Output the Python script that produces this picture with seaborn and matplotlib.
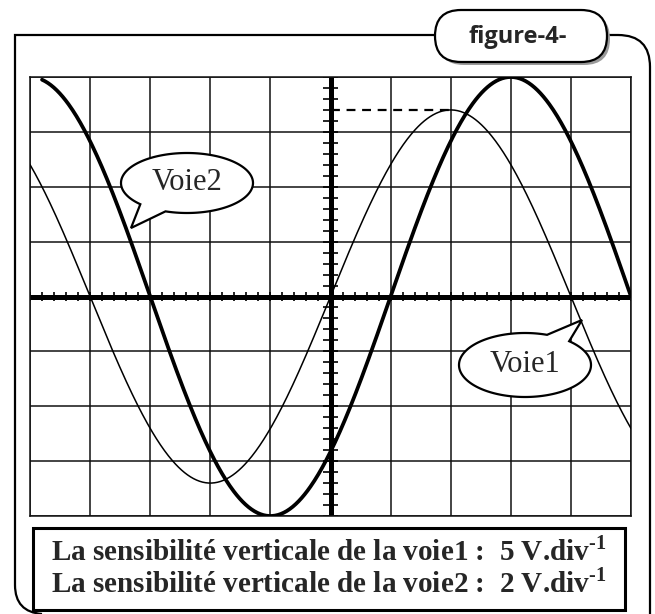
import numpy as np
import pandas as pd
import matplotlib
matplotlib.use("Agg")
import matplotlib.pyplot as plt
import seaborn as sns
from matplotlib.patches import FancyBboxPatch, Rectangle, Polygon
from matplotlib.path import Path
from matplotlib.patches import PathPatch

# ---- data (units: screen divisions) ----
n_div_x = 10
n_div_y = 8
subdiv = 5
voie1_amplitude = 3.4      # thin curve, peak in div
voie2_amplitude = 4.0      # thick curve, peak in div
period_div = 8.0           # both signals
voie1_zero_up = 0.0        # upward zero crossing (div)
voie2_zero_up = 1.0        # upward zero crossing (div)
voie2_start = -4.8
caption_lines = ["La sensibilité verticale de la voie1 :  5 V.div$^{\\mathbf{\u20101}}$",
                 "La sensibilité verticale de la voie2 :  2 V.div$^{\\mathbf{\u20101}}$"]
fig_label = "figure-4-"
label1 = "Voie1"
label2 = "Voie2"

sns.set_style("white")
plt.rcParams['font.family'] = ['Liberation Serif', 'DejaVu Serif']
plt.rcParams['mathtext.fontset'] = 'custom'
plt.rcParams['mathtext.rm'] = 'Liberation Serif'
plt.rcParams['mathtext.bf'] = 'Liberation Serif:bold'

W, H = 655, 614
fig = plt.figure(figsize=(W / 100, H / 100), dpi=100)

# grid region in pixels
gx0, gx1, gy0, gy1 = 30, 631, 77, 516
ax = fig.add_axes([gx0 / W, 1 - gy1 / H, (gx1 - gx0) / W, (gy1 - gy0) / H])
xmin, xmax = -n_div_x / 2, n_div_x / 2
ymin, ymax = -n_div_y / 2, n_div_y / 2

t1 = np.linspace(xmin, xmax, 600)
t2 = np.linspace(voie2_start, xmax, 600)
df1 = pd.DataFrame({"t": t1, "u": voie1_amplitude * np.sin(2 * np.pi * (t1 - voie1_zero_up) / period_div)})
df2 = pd.DataFrame({"t": t2, "u": voie2_amplitude * np.sin(2 * np.pi * (t2 - voie2_zero_up) / period_div)})

for k in range(int(xmin), int(xmax) + 1):
    ax.axvline(k, color="#111111", lw=1.1, zorder=1)
for k in range(int(ymin), int(ymax) + 1):
    ax.axhline(k, color="#111111", lw=1.1, zorder=1)
ax.axhline(0, color="black", lw=3.6, zorder=2)
ax.axvline(0, color="black", lw=3.6, zorder=2)
xt = np.arange(xmin, xmax + 1e-9, 1 / subdiv)
yt = np.arange(ymin, ymax + 1e-9, 1 / subdiv)
ax.vlines(xt, -0.09, 0.09, color="black", lw=1.2, zorder=2)
ax.hlines(yt, -0.12, 0.12, color="black", lw=1.2, zorder=2)

sns.lineplot(data=df1, x="t", y="u", ax=ax, color="black", lw=1.1, zorder=3, sort=False)
sns.lineplot(data=df2, x="t", y="u", ax=ax, color="black", lw=2.7, zorder=3, sort=False)
ax.plot([voie1_zero_up, voie1_zero_up + period_div / 4], [voie1_amplitude] * 2,
        color="black", lw=1.6, ls=(0, (4, 3)), zorder=3)

ax.set_xlim(xmin, xmax)
ax.set_ylim(ymin, ymax)
ax.set_xticks([]); ax.set_yticks([])
ax.set_xlabel(""); ax.set_ylabel("")
for s in ax.spines.values():
    s.set_color("#111111"); s.set_linewidth(1.1)

# ---- overlay in pixel coordinates ----
ov = fig.add_axes([0, 0, 1, 1], facecolor="none")
ov.set_xlim(0, W); ov.set_ylim(H, 0); ov.axis("off")

# outer frame
verts = [(435, 35), (15, 35), (15, 585)]
codes = [Path.MOVETO, Path.LINETO, Path.LINETO]
verts += [(15, 612), (42, 614)]
codes += [Path.CURVE3, Path.CURVE3]
ov.add_patch(PathPatch(Path(verts, codes), fill=False, lw=1.6, color="black"))
verts = [(607, 35), (618, 35), (650, 35), (650, 67), (650, 620)]
codes = [Path.MOVETO, Path.LINETO, Path.CURVE3, Path.CURVE3, Path.LINETO]
ov.add_patch(PathPatch(Path(verts, codes), fill=False, lw=1.6, color="black"))

# tab
ov.add_patch(FancyBboxPatch((438, 13), 172, 52, boxstyle="round,pad=0,rounding_size=26",
                            fc="#9a9a9a", ec="none", zorder=4))
ov.add_patch(FancyBboxPatch((435, 10), 172, 52, boxstyle="round,pad=0,rounding_size=26",
                            fc="white", ec="black", lw=1.6, zorder=5))
ov.text(518, 37, fig_label, ha="center", va="center", fontsize=17, fontweight="bold",
        family=["Open Sans", "DejaVu Sans"], zorder=6)

# caption box
ov.add_patch(Rectangle((33, 528), 592, 82, fc="white", ec="black", lw=2.2, zorder=4))
ov.text(329, 551, caption_lines[0], ha="center", va="center", fontsize=21, fontweight="bold", zorder=5)
ov.text(329, 583, caption_lines[1], ha="center", va="center", fontsize=21, fontweight="bold", zorder=5)


def callout(cx, cy, a, b, th1, th2, tip, text):
    th = np.deg2rad(np.linspace(th2, th1 + 360, 200))
    pts = [(cx + a * np.cos(v), cy + b * np.sin(v)) for v in th]
    pts.append(tip)
    ov.add_patch(Polygon(pts, closed=True, fc="white", ec="black", lw=1.6, zorder=6))
    ov.text(cx, cy, text, ha="center", va="center", fontsize=22, zorder=7)


callout(187, 183, 66, 30, 109, 135, (131, 228), label2)
callout(525, 365, 66, 32, 289.5, 312, (582, 320), label1)

fig.savefig("out.png", dpi=100)
